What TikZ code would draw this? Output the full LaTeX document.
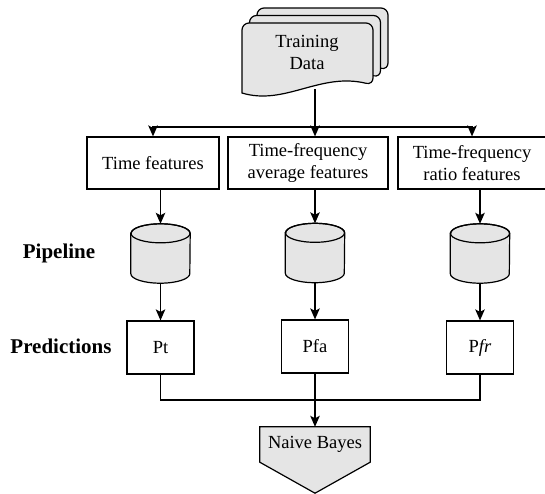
\documentclass[tikz,border=0pt]{standalone}
\usepackage{fontspec}
\setmainfont{LiberationSerif}[Extension=.ttf, UprightFont=*-Regular,
  BoldFont=*-Bold, ItalicFont=*-Italic, BoldItalicFont=*-BoldItalic]
\usetikzlibrary{arrows.meta,backgrounds,calc}
\definecolor{shade}{gray}{0.9}
% one sheet of the stacked document symbol, shifted by (#1,#2)
\newcommand\papersheet[2]{%
  \draw[sheet, shift={(#1,#2)}, rounded corners=7pt]
    (242,93) -- (242,23) -- (373,23) -- (373,85) [sharp corners]
    .. controls (320,72) and (285,106) .. (242,93) -- cycle;}
\begin{document}
\begin{tikzpicture}[x=1pt,y=-1pt,
  every node/.style={font=\fontsize{18.5}{22}\selectfont, align=center},
  box/.style={draw, line width=1.2pt, inner sep=0pt},
  cylbox/.style={inner sep=0pt, minimum width=59pt, minimum height=59pt},
  link/.style={line width=1.4pt},
  flow/.style={link, -{Stealth[length=11pt,width=9.5pt,inset=2.5pt]}},
  tag/.style={font=\fontsize{21}{24}\selectfont\bfseries},
  sheet/.style={draw, line width=1.2pt, fill=shade}]
\useasboundingbox (0,0) rectangle (545,493);

% stacked training data sheets
\papersheet{15}{-15}
\papersheet{7.5}{-7.5}
\papersheet{0}{0}
\node (train) at (307,52) {Training\\Data};
\coordinate (docb) at (315,89);
\coordinate (split) at (315,127);

% feature boxes
\node[box, minimum width=132pt, minimum height=52pt] (tf1) at (153,163) {Time features};
\node[box, minimum width=160pt, minimum height=52pt] (tf2) at (308,163) {Time-frequency\\average features};
\node[box, minimum width=148pt, minimum height=52pt] (tf3) at (472,163) {Time-frequency\\ratio features};

% pipeline cylinders
\node[cylbox] (c1) at (160.5,253.5) {};
\node[cylbox] (c2) at (315,253) {};
\node[cylbox] (c3) at (480,253.5) {};
\foreach \c in {c1,c2,c3}{
  \draw[sheet] ($(\c.north west)+(0,9.5)$) -- ($(\c.south west)+(0,-9.5)$)
    arc[start angle=180,end angle=0,x radius=29.5,y radius=9.5]
    -- ($(\c.north east)+(0,9.5)$)
    arc[start angle=0,end angle=-180,x radius=29.5,y radius=9.5] -- cycle;
  \draw[line width=1.2pt] ($(\c.north)+(0,9.5)$) ellipse [x radius=29.5,y radius=9.5];
}

% prediction boxes
\node[box, minimum width=67pt, minimum height=53pt] (p1) at (160.5,347.5) {Pt};
\node[box, minimum width=67pt, minimum height=53pt] (p2) at (315,346.5) {Pfa};
\node[box, minimum width=67pt, minimum height=53pt] (p3) at (480,347.5) {P\textit{fr}};

% row labels
\node[tag] (pipe) at (59,253) {Pipeline};
\node[tag] (pred) at (61,346) {Predictions};

% naive Bayes combiner
\node[inner sep=0pt, minimum width=110pt, minimum height=35pt] (nb) at (315,444.5) {Naive Bayes};
\begin{scope}[on background layer]
  \draw[sheet] (nb.north west) -- (nb.north east) -- (nb.south east)
    -- ($(nb.south)+(0,31)$) -- (nb.south west) -- cycle;
\end{scope}

% connectors
\draw[flow] (docb) -- (docb |- tf2.north);
\draw[flow] (split) -| (tf1.north);
\draw[flow] (split) -| (tf3.north);
\foreach \b/\c in {tf1/c1, tf2/c2, tf3/c3}{
  \draw[flow] (\b.south -| \c.north) -- (\c.north);
}
\foreach \c/\p in {c1/p1, c2/p2, c3/p3}{
  \draw[flow] (\c.south) -- (\p.north);
}
\coordinate (join) at (315,400);
\draw[link] (p1.south) |- (join) -| (p3.south);
\draw[flow] (p2.south) -- (nb.north);
\end{tikzpicture}
\end{document}
